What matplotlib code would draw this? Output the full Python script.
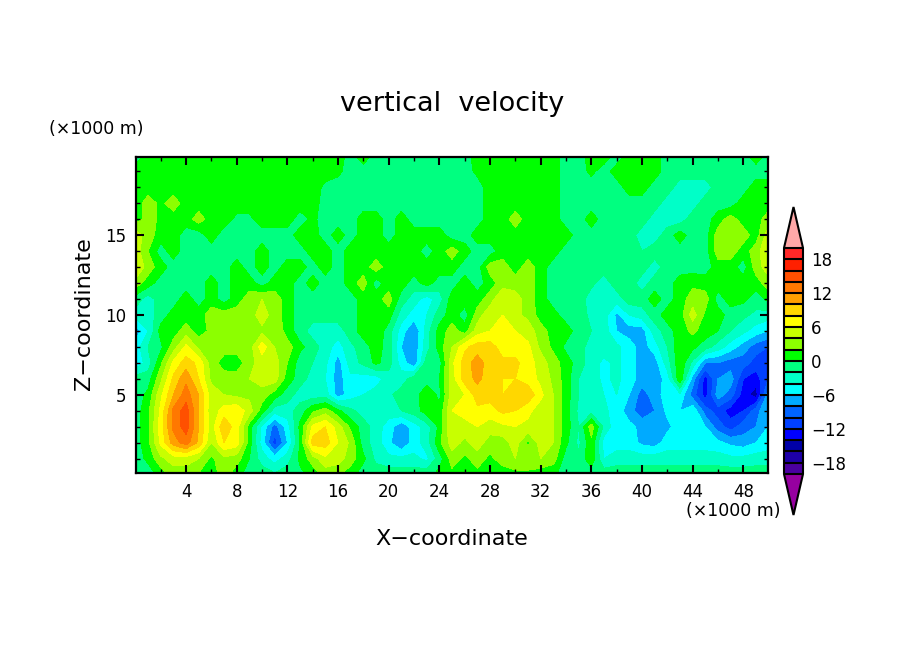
import numpy as np
import matplotlib
matplotlib.use("Agg")
import matplotlib.pyplot as plt
from matplotlib.colors import ListedColormap, BoundaryNorm
from matplotlib.ticker import MultipleLocator

x_km = [0.05] + list(range(1, 50)) + [49.95]
z_km = [0.1] + list(range(1, 20)) + [19.9]
levels = list(range(-20, 21, 2))
cbar_ticks = [-18, -12, -6, 0, 6, 12, 18]
cbar_labels = ['\u221218', '\u221212', '\u22126', '0', '6', '12', '18']

w_z00 = [-1,-1,1,3,3,2,1,3,1,-1,-1,-2,-1,-0.5,1,3,2.5,1,-1,-1,-1,-1,-1,-1,0.5,1.5,1,1.5,1,1,1.5,1.5,1,0.5,-1,-1,-1,-1,-1,-1,-1,-1,-1,-1,-1,-1,-1,-1,-1,-1,-1]
w_z01 = [-1,0.5,3.5,5,5,4,1.5,3.5,3,0,-3,-5,-3,0.5,3,5.5,5,3,0.5,-2.5,-3.5,-3.5,-3.5,-4.5,-1,3,1.5,3,1.5,3,4,4,4,3,-1,-1.5,1.5,-4,-3,-3,-3,-3,-3,-3,-3,-3,-3,-3.5,-3.5,-3,-3]
w_z02 = [-1,1.5,6.5,11,13,9.5,4,8,7,1,-5,-11,-6,0,9,9,6,3.5,-1,-3,-5.5,-8,-5,-3,1.5,5,3.5,5,3,3,5,1.5,5,4,0.5,-2.5,1.5,-5,-5,-5,-6.5,-7,-5,-5,-5,-5,-5.5,-6.5,-7,-6,-5]
w_z03 = [-1,1.5,7,12.5,15,10,5,9.5,7,1,-4.5,-9,-5,0.5,6.5,8,5,1.5,-1,-3,-5,-7.5,-5,-3,0.5,6,5,6,5,5.5,6,5.5,5,4,1,-2,3,-2.5,-5.5,-5.5,-6.5,-7.5,-6.5,-5,-5,-6,-9,-11,-9,-8,-6]
w_z04 = [-1,1.5,6.5,12.5,15,10,4.5,7,7.5,5,1,-3,-3,-1,1.5,3,0.5,-1.5,-3,-3,-3,-2,-1,1,0.5,6,7,7.5,7,8.5,8,6.5,5,4,1,-2.5,-3,-3.5,-5,-7,-9.5,-8,-5.5,-6,-4.5,-9,-11,-13,-12,-9,-6]
w_z05 = [-1,0.5,5.5,10,13,10,5,4,3.5,3.5,3,1,-1,-3,-3,-3,-7,-5,-4,-3,-2.5,-1,-1,1.5,-0.5,5,6,9,9,8,9.5,9.5,6.5,4,1,-2,-3,-4,-4,-6,-9,-7,-5,-4.5,-9,-13,-7,-9,-13,-15,-7]
w_z06 = [-1,-1,3.5,8.5,11.5,8,3.5,3,3,4,5,5,1,-1,-3,-4,-7,-4.5,-5,-5,-3,-3,-1,-1,0,5,9,10.5,9,8,8,7,5.5,3.5,1,-2,-3,-4.5,-3.5,-5,-7,-7.5,-5,1.5,-7,-13,-8,-7,-12,-13,-10]
w_z07 = [-5.5,-3,1.5,6.5,9,7.5,3,1,0.8,3.2,5,5,2,-1,-2,-3.5,-7,-3,-1.5,0.5,-1,-5,-7.5,-1,-1,5.5,9,11,9,8.5,8.5,7,5,3,1,-1,-3,-4.5,-3.5,-5,-7,-7,-3,1.5,-2.5,-8,-8,-9,-9,-11,-11]
w_z08 = [-5,-2,-0.5,3,6.5,3.5,2.5,3,3,3,7,4,3,0.5,-1,-3,-5,-2.5,-1,1,-1,-6,-7.5,-3,1,4,7.5,9,9,7,7,6.5,3.5,1.5,-0.5,-1,-3,-3,-3.5,-5,-7,-5,-2,1.5,0.5,-1,-3,-5,-7,-9,-10]
w_z09 = [-7,-4,0.8,1,3,1,2.5,3,3,3.5,3.5,4,1,-1,-3,-3,-3,-1,1,1.5,-1,-5,-8,-3,0.8,3,1,5,6,7,6,5,3,1,1,-1,-2,-3,-6,-7,-7,-3,-1,1,2.5,1,0,-2,-3.5,-5,-6]
w_z10 = [-3,-3,-1,0.8,1,1,3,3,3,3,5,3,1,-1,-1,-1,-1,-1,1,1.2,1,-3,-5,-4,-1,1,-1,3,5.5,6,4.5,3.5,1,0.8,-1,-1,-2.5,-3,-6.5,-4,-3,-1,1,1,5,1.5,1,-1,-1.5,-2.5,-3]
w_z11 = [-1,-3,-1,-1,1,-1,1,-1,1,3,4,3,1,-1,-1,-1,-1,-1,1,1,3,-1,-3,-5,-3,1,1,1,3,6,5,3,1,-1,-1,-1,-3,-3,-3,-1,-1,1,-1,1,3,3,-1,1,0.5,-1,0.5]
w_z12 = [3,1,-1,-1,-1,-1,1,-1,1,1,-1,1,1,-1,1,-1,-1,1,3,-1,1,1,-1,1,-1,-1,1,-1,1,3,3,3,1,-1,-1,-1,-1.5,-3,-1,-1,-3,-1,-1,1,1.5,1,1,1,1,1,3]
w_z13 = [6,3,1,-1,-1,-1,-1,-1,1,-1,1,-1,1,1,-1,1,-1,1,1,3,1,1,1,1,1,1,-1,-1,3,3,1,3,1,-1,-1,-1,-1,-1,-1,-1,-1,-3,-1,-1,-1,-1,1,1,-1,3,5]
w_z14 = [5,2,-1,1,-1,-1,-1,-1,-1,-1,1,-1,-1,-1,1,1,-1,1,1,1,1,1,1,-1,1,3,1,-1,-1,1,1,1,0.5,1,-1,-1,-1,-1,-1,-1,-2,-1,-1,-1,-1,-1,3,3,1,3,6]
w_z15 = [5,3,1,1,-1,-1,1,-1,-1,-1,-1,-1,-1,1,1,-1,1,-1,1,1,-1,1,1,1,1,-1,-1,1,1,1,1,1,1,1,1,-1,-1,-1,-2,-1,-3,-3,-1,1,-1,-1,3,3,3,1,5]
w_z16 = [1,3,1.5,1,1,3,1,1,-0.5,-0.5,1,1,1,-1,0.5,-1,-1,-1,1,1,-1,1,-1,-1,-1,-1,-1,-1,1,1,3,1,1,1,-1,-1,1,-1,-1,-1,-1,-3,-3,-3,-1,-1,1,3,1,1,3]
w_z17 = [1,3,1.5,3,1,1,1,1,1,1,1,1,1,1,1,-1,-1,-1,-1,-1,-1,-1,-1,-1,-1,-1,-1,-1,1,1,1,1,1,1,-1,-1,-1,-1,-1,-1,-1,-1,-3,-3,-3,-1,-1,-1,1,1,1]
w_z18 = [1,1,1,1,1,1,1,1,1,1,1,1,1,1,1,-0.5,-1,-1,-1,-1,-1,-1,-1,-1,-1,-1,-1,-1,1,1,1,1,1,1,-1,-1,-1,-1,-1,1,1,-1,-1,-3,-3,-3,-1,-1,-1,1,1]
w_z19 = [1,1,1,1,1,1,1,1,1,1,1,1,1,1,1,1,0.5,-1,-1,-1,-1,-1,-1,-1,-1,-1,-1,0.5,1,1,1,1,1,1,-1,-1,0.5,-1,1,1,1,1,-1,-1,-1,-1,-1,-1,-1,-1,-1]
w_z20 = [-1,1,1,1,1,1,1,1,1,1,1,1,1,1,1,1,1,-1,1,-1,-1,-1,-1,-1,-1,-1,-1,1,1,1,1,1,1,1,-1,-1,1,1,-1,1,1,1,-1,-1,-1,-1,-1,-1,-1,1,-1]

W = np.array([w_z00,w_z01,w_z02,w_z03,w_z04,w_z05,w_z06,w_z07,w_z08,w_z09,w_z10,
              w_z11,w_z12,w_z13,w_z14,w_z15,w_z16,w_z17,w_z18,w_z19,w_z20], dtype=float)

band_colors = ['#4B00A0','#1E00A8','#0000A8','#0000FF','#0040FF','#0064FF','#00AAFF','#00FFFF','#00FFC8','#00FF80',
               '#00FF00','#8CFF00','#C8FF00','#FFFF00','#FFD700','#FFA000','#FF7800','#FF5000','#FF2000','#FF2828']
cmap = ListedColormap(band_colors)
cmap.set_under('#9600A0')
cmap.set_over('#FFA8A8')
norm = BoundaryNorm(levels, cmap.N)

W_PX, H_PX = 904, 654
fig = plt.figure(figsize=(W_PX/100, H_PX/100), dpi=100)
def rect(l, t, r, b):
    return [l/W_PX, 1-b/H_PX, (r-l)/W_PX, (b-t)/H_PX]

ax = fig.add_axes(rect(136, 157, 768, 473))
cf = ax.contourf(x_km, z_km, W, levels=levels, cmap=cmap, norm=norm, extend='both', antialiased=False)
ax.set_xlim(0.05, 49.95)
ax.set_ylim(0.1, 19.9)
ax.xaxis.set_major_locator(MultipleLocator(4))
ax.xaxis.set_minor_locator(MultipleLocator(2))
ax.yaxis.set_major_locator(MultipleLocator(5))
ax.yaxis.set_minor_locator(MultipleLocator(1))
ax.tick_params(which='major', direction='in', length=6, width=1.5, top=True, right=True, labelsize=12, pad=7)
ax.tick_params(which='minor', direction='in', length=3, width=1.0, top=True, right=True)
for s in ax.spines.values():
    s.set_linewidth(1.6)

def label(px, py, s, **kw):
    fig.text(px/W_PX, 1-py/H_PX, s, ha='center', va='center', **kw)

label(452, 104, 'vertical  velocity', fontsize=19.5)
label(452, 539, 'X\u2212coordinate', fontsize=16)
label(84, 314, 'Z\u2212coordinate', fontsize=16, rotation=90)
label(96, 129, '(\u00d71000 m)', fontsize=12.5)
label(733, 511, '(\u00d71000 m)', fontsize=12.5)

cax = fig.add_axes(rect(784, 207, 803, 515))
cb = fig.colorbar(cf, cax=cax, extend='both', extendfrac=0.181, drawedges=True, spacing='uniform')
cb.set_ticks(cbar_ticks)
cb.set_ticklabels(cbar_labels)
cb.minorticks_off()
cb.ax.tick_params(length=0, labelsize=12, pad=6)
cb.dividers.set_color('black')
cb.dividers.set_linewidth(1.5)
cb.outline.set_edgecolor('black')
cb.outline.set_linewidth(1.5)

fig.savefig('out.png', dpi=100)
